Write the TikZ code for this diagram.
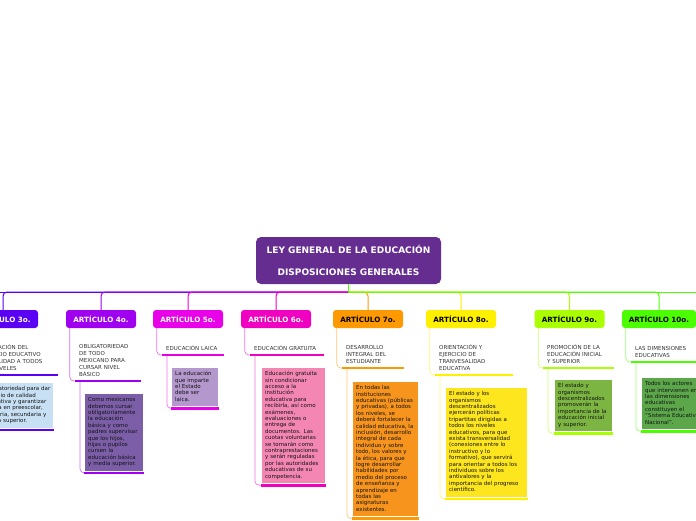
\documentclass[tikz,border=0pt]{standalone}
\usepackage{fontspec}
\setmainfont{DejaVu Sans}
\usetikzlibrary{calc}
\definecolor{cCentral}{HTML}{662D91}
\definecolor{cA3}{HTML}{5A00F5}
\definecolor{cA4}{HTML}{A000F0}
\definecolor{cA5}{HTML}{E800E8}
\definecolor{cA6}{HTML}{F000C0}
\definecolor{cA7}{HTML}{FF9900}
\definecolor{cA8}{HTML}{FFF000}
\definecolor{cA9}{HTML}{AAFF00}
\definecolor{cA10}{HTML}{4CFF00}
\definecolor{dA3}{HTML}{C8E0F4}
\definecolor{dA4}{HTML}{7B5EA7}
\definecolor{dA5}{HTML}{B497CC}
\definecolor{dA6}{HTML}{F386B3}
\definecolor{dA7}{HTML}{F7941D}
\definecolor{dA8}{HTML}{FDE61E}
\definecolor{dA9}{HTML}{7CB542}
\definecolor{dA10}{HTML}{5BA74A}
\newcommand{\mylines}[1]{\noindent\begin{tabular}{@{}l@{}}#1\end{tabular}}
\tikzset{
  central/.style={fill=cCentral, rounded corners=5pt, minimum width=185pt, minimum height=47pt,
    text=white, font=\fontsize{9}{22}\selectfont\bfseries, align=center, inner sep=0pt},
  headbox/.style={fill=#1, rounded corners=3pt, minimum width=70pt, minimum height=18pt,
    inner sep=0pt, font=\fontsize{7.2}{8}\selectfont\bfseries},
  subtxt/.style={anchor=south west, inner xsep=4pt, inner ysep=2.5pt,
    font=\fontsize{5.5}{6.8}\selectfont, text=black!80, align=left},
  detbox/.style={fill=#1, anchor=north west, inner sep=3pt,
    font=\fontsize{5.5}{6.4}\selectfont, text=black!92, align=left},
  barline/.style={draw=#1, line width=2.6pt},
  buslink/.style={draw=#1, line width=1pt, rounded corners=4pt},
  thinlink/.style={draw=#1!55, line width=0.7pt, rounded corners=4pt},
}
\begin{document}
\begin{tikzpicture}[x=1pt,y=-1pt]
\fill[white] (0,0) rectangle (696,520);
\useasboundingbox (0,0) rectangle (696,520);

\node[central] (top) at (348.5,260.5) {LEY GENERAL DE LA EDUCACIÓN\\DISPOSICIONES GENERALES};

\coordinate (bus) at (348.5,292);
\coordinate (busL) at (0,292);
\coordinate (busR) at (696,292);

% headers
\node[headbox=cA3, text=white] (h3) at (3,319) {ARTÍCULO 3o.};
\node[headbox=cA4, text=white] (h4) at (101,319) {ARTÍCULO 4o.};
\node[headbox=cA5, text=white] (h5) at (188,319) {ARTÍCULO 5o.};
\node[headbox=cA6, text=white] (h6) at (276,319) {ARTÍCULO 6o.};
\node[headbox=cA7, text=black] (h7) at (368,319) {ARTÍCULO 7o.};
\node[headbox=cA8, text=black] (h8) at (461,319) {ARTÍCULO 8o.};
\node[headbox=cA9, text=black] (h9) at (569.5,319) {ARTÍCULO 9o.};
\node[headbox=cA10, text=black, minimum width=74pt] (h10) at (659,319) {ARTÍCULO 10o.};

% subtitles
\node[subtxt, text width=73pt] (s3) at (-23,375) {\mylines{PRESTACIÓN DEL\\SERVICIO EDUCATIVO\\DE CALIDAD A TODOS\\LOS NIVELES}};
\node[subtxt, text width=58pt] (s4) at (75,381) {\mylines{OBLIGATORIEDAD\\DE TODO\\MEXICANO PARA\\CURSAR NIVEL\\BÁSICO}};
\node[subtxt, text width=54pt] (s5) at (162,355) {\mylines{EDUCACIÓN LAICA}};
\node[subtxt, text width=66pt] (s6) at (250,355) {\mylines{EDUCACIÓN GRATUITA}};
\node[subtxt, text width=54pt] (s7) at (342,368) {\mylines{DESARROLLO\\INTEGRAL DEL\\ESTUDIANTE}};
\node[subtxt, text width=70pt] (s8) at (435,375) {\mylines{ORIENTACIÓN Y\\EJERCICIO DE\\TRANVESALIDAD\\EDUCATIVA}};
\node[subtxt, text width=63pt] (s9) at (543,368) {\mylines{PROMOCIÓN DE LA\\EDUCACIÓN INICIAL\\Y SUPERIOR}};
\node[subtxt, text width=61pt] (s10) at (631,362) {\mylines{LAS DIMENSIONES\\EDUCATIVAS}};

% details
\node[detbox=dA3, text width=66pt] (d3) at (-19,383) {\mylines{Obligatoriedad para dar\\servicio de calidad\\educativa y garantizar\\básica en preescolar,\\primaria, secundaria y\\media superior.}};
\node[detbox=dA4, text width=52pt] (d4) at (85,394) {\mylines{Como mexicanos\\debemos cursar\\obligatoriamente\\la educación\\básica y como\\padres supervisar\\que los hijos,\\hijas o pupilos\\cursen la\\educación básica\\y media superior.}};
\node[detbox=dA5, text width=40pt] (d5) at (172,368) {\mylines{La educación\\que imparte\\el Estado\\debe ser\\laica.}};
\node[detbox=dA6, text width=57pt] (d6) at (262,368) {\mylines{Educación gratuita\\sin condicionar\\acceso a la\\institución\\educativa para\\recibirla,  así como\\exámenes,\\evaluaciones o\\entrega de\\documentos. Las\\cuotas voluntarias\\se tomarán como\\contraprestaciones\\y serán reguladas\\por las autoridades\\educativas de su\\competencia.}};
\node[detbox=dA7, text width=59pt] (d7) at (353,382) {\mylines{En todas las\\instituciones\\educativas (públicas\\y privadas), a todos\\los niveles, se\\deberá fortalecer la\\calidad educativa, la\\inclusión, desarrollo\\integral de cada\\individuo  y sobre\\todo, los valores y\\la ética, para que\\logre desarrollar\\habilidades por\\medio del proceso\\de enseñanza y\\aprendizaje en\\todas las\\asignaturas\\existentes.}};
\node[detbox=dA8, text width=75pt] (d8) at (446,388) {\mylines{El estado y los\\organismos\\descentralizados\\ejercerán políticas\\tripartitas dirigidas a\\todos los niveles\\educativos, para que\\exista transversalidad\\(conexiones entre lo\\instructivo y lo\\formativo), que servirá\\para orientar a todos los\\individuos sobre los\\antivalores y la\\importancia del progreso\\científico.}};
\node[detbox=dA9, text width=51pt] (d9) at (555,380) {\mylines{El estado y\\organismos\\descentralizados\\promoverán la\\importancia de la\\educación inicial\\y superior.}};
\node[detbox=dA10, text width=64pt] (d10) at (642,378) {\mylines{Todos los actores\\que intervienen en\\las dimensiones\\educativas\\constituyen el\\"Sistema Educativo\\Nacional".}};

% bus and drops
\draw[buslink=cA3] (bus) -- (busL);
\draw[buslink=cA10] (bus) -- (busR);
\foreach \n in {3,4,5,6,7,8,9,10}{
  \draw[buslink=cA\n] (bus) -| (h\n.north);
}
\draw[buslink=cA10] (top.south) -- (bus);

% side connectors
\foreach \n in {3,4,5,6,7,8,9,10}{
  \draw[thinlink=cA\n] ($(h\n.south west)+(4,0)$) |- (s\n.south west);
  \draw[thinlink=cA\n] ($(s\n.south west)+(5,0)$) |- ($(d\n.south west)+(-1,2)$);
  \draw[barline=cA\n] (s\n.south west) -- (s\n.south east);
  \draw[barline=cA\n] ($(d\n.south west)+(-1,2)$) -- ($(d\n.south east)+(1,2)$);
}
\end{tikzpicture}
\end{document}
